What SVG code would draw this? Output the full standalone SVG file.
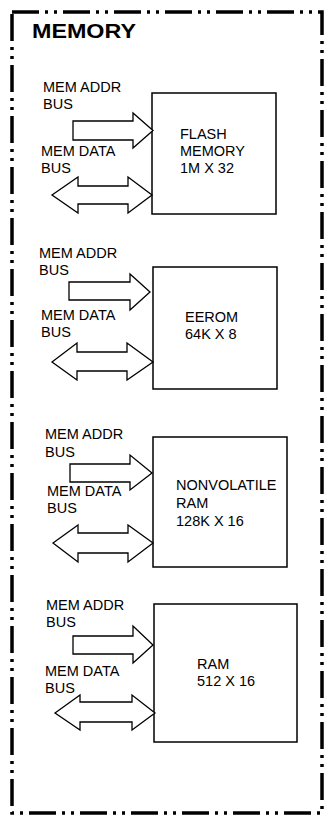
<svg xmlns="http://www.w3.org/2000/svg" width="325" height="817" viewBox="0 0 325 817">
<style>
text{font-family:"Liberation Sans",Arial,sans-serif;font-size:14.5px;fill:#000}
.title{font-size:20px;font-weight:bold}
.box{fill:#fff;stroke:#000;stroke-width:1.5}
.bus{fill:#fff;stroke:#000;stroke-width:1.3;stroke-linejoin:miter}
.frame{fill:none;stroke:#000;stroke-width:3.5;stroke-dasharray:27 6 3 6 3 6}
</style>
<rect width="325" height="817" fill="#fff"/>
<g id="frame">
<rect class="frame" x="12" y="12" width="310" height="801"/>
<text class="title" x="32" y="38" textLength="104" lengthAdjust="spacingAndGlyphs">MEMORY</text>
</g>
<g id="flash">
<rect class="box" x="152" y="93" width="124" height="121"/>
<text x="180" y="139">FLASH</text>
<text x="180" y="156">MEMORY</text>
<text x="180" y="173">1M X 32</text>
</g>
<g id="eerom">
<rect class="box" x="153" y="267" width="124" height="122"/>
<text x="185" y="322">EEROM</text>
<text x="185" y="339">64K X 8</text>
</g>
<g id="nvram">
<rect class="box" x="153" y="437" width="134" height="130"/>
<text x="176" y="490">NONVOLATILE</text>
<text x="176" y="508">RAM</text>
<text x="176" y="526">128K X 16</text>
</g>
<g id="ram">
<rect class="box" x="154" y="604" width="143" height="138"/>
<text x="197" y="669">RAM</text>
<text x="197" y="686">512 X 16</text>
</g>
<g id="connectors">
<g id="flash-buses">
<text x="43" y="92">MEM ADDR</text><text x="43" y="109">BUS</text>
<polygon class="bus" points="73,121 133,121 133,113 153,130.5 133,148 133,140 73,140"/>
<text x="41" y="156">MEM DATA</text><text x="41" y="173">BUS</text>
<polygon class="bus" points="52,195 78,177 78,186 128,186 128,177 152,195 128,213 128,204 78,204 78,213"/>
</g>
<g id="eerom-buses">
<text x="39" y="258">MEM ADDR</text><text x="39" y="275">BUS</text>
<polygon class="bus" points="69,282 130,282 130,274 150,292 130,310 130,300 69,300"/>
<text x="41" y="320">MEM DATA</text><text x="41" y="337">BUS</text>
<polygon class="bus" points="52,362 77,343 77,352 127,352 127,343 153,362 127,380 127,371 77,371 77,380"/>
</g>
<g id="nvram-buses">
<text x="45" y="439">MEM ADDR</text><text x="45" y="457">BUS</text>
<polygon class="bus" points="70,464 130,464 130,455 152,473 130,490 130,482 70,482"/>
<text x="47" y="496">MEM DATA</text><text x="47" y="513">BUS</text>
<polygon class="bus" points="53,543 78,525 78,533 128,533 128,525 153,543 128,562 128,553 78,553 78,562"/>
</g>
<g id="ram-buses">
<text x="46" y="610">MEM ADDR</text><text x="46" y="627">BUS</text>
<polygon class="bus" points="73,636 133,636 133,626 153,645 133,663 133,654 73,654"/>
<text x="45" y="676">MEM DATA</text><text x="45" y="693">BUS</text>
<polygon class="bus" points="55,713 80,695 80,702 132,702 132,695 155,713 132,730 132,722 80,722 80,730"/>
</g>
</g>
</svg>
